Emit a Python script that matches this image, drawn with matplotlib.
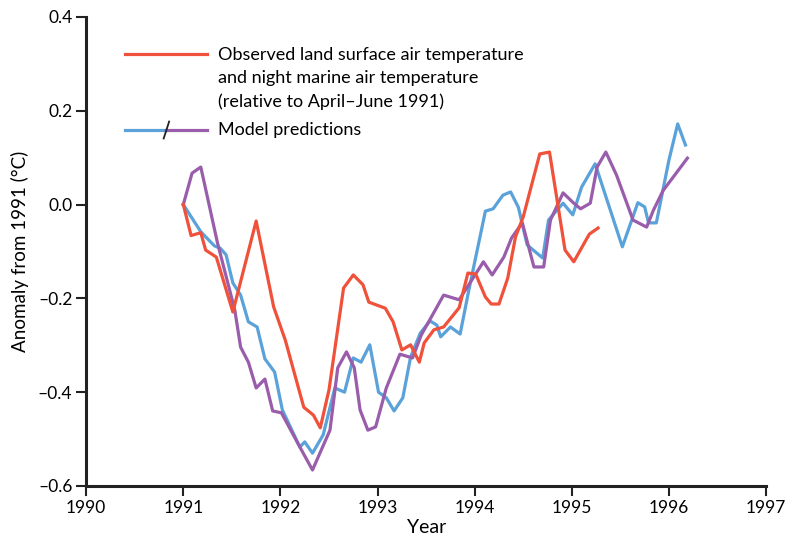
#!/usr/bin/env python

import matplotlib
matplotlib.use('Agg')
import matplotlib.pyplot as plt
from matplotlib.lines import Line2D

# observed land surface air temperature + night marine air temperature
obs_year = [1991.00, 1991.08, 1991.18, 1991.23, 1991.34, 1991.51, 1991.75, 1991.93,
            1992.05, 1992.24, 1992.34, 1992.41, 1992.50, 1992.65, 1992.75, 1992.85,
            1992.91, 1993.08, 1993.16, 1993.25, 1993.34, 1993.43, 1993.48, 1993.58,
            1993.68, 1993.84, 1993.93, 1994.01, 1994.11, 1994.17, 1994.25, 1994.34,
            1994.42, 1994.50, 1994.67, 1994.77, 1994.93, 1995.02, 1995.18, 1995.27]
obs_anom = [0.000, -0.066, -0.060, -0.097, -0.112, -0.229, -0.035, -0.218,
            -0.289, -0.432, -0.449, -0.476, -0.395, -0.178, -0.150, -0.171,
            -0.208, -0.221, -0.250, -0.310, -0.299, -0.336, -0.295, -0.267,
            -0.261, -0.220, -0.146, -0.148, -0.197, -0.212, -0.212, -0.157,
            -0.069, -0.026, 0.108, 0.112, -0.097, -0.122, -0.063, -0.050]

# model predictions, first run (blue)
blue_year = [1991.00, 1991.18, 1991.32, 1991.38, 1991.44, 1991.51, 1991.59, 1991.67,
             1991.76, 1991.84, 1991.94, 1992.02, 1992.20, 1992.25, 1992.33, 1992.44,
             1992.56, 1992.66, 1992.75, 1992.83, 1992.92, 1993.01, 1993.09, 1993.17,
             1993.26, 1993.34, 1993.44, 1993.54, 1993.61, 1993.65, 1993.75, 1993.85,
             1993.94, 1994.11, 1994.19, 1994.29, 1994.37, 1994.45, 1994.54, 1994.70,
             1994.76, 1994.83, 1994.91, 1995.01, 1995.10, 1995.24, 1995.52, 1995.68,
             1995.75, 1995.79, 1995.87, 1996.00, 1996.09, 1996.17]
blue_anom = [0.000, -0.058, -0.088, -0.093, -0.107, -0.167, -0.193, -0.250,
             -0.261, -0.329, -0.357, -0.438, -0.517, -0.506, -0.530, -0.491,
             -0.391, -0.400, -0.327, -0.336, -0.299, -0.400, -0.412, -0.440,
             -0.412, -0.325, -0.274, -0.248, -0.257, -0.282, -0.261, -0.276,
             -0.182, -0.014, -0.009, 0.020, 0.027, -0.006, -0.086, -0.114,
             -0.033, -0.016, 0.003, -0.022, 0.037, 0.087, -0.090, 0.004,
             -0.005, -0.039, -0.039, 0.095, 0.172, 0.127]

# model predictions, second run (purple)
purple_year = [1991.00, 1991.09, 1991.18, 1991.35, 1991.53, 1991.59, 1991.67, 1991.75,
               1991.84, 1991.92, 1992.01, 1992.20, 1992.33, 1992.51, 1992.59, 1992.68,
               1992.76, 1992.82, 1992.90, 1992.98, 1993.09, 1993.23, 1993.36, 1993.45,
               1993.68, 1993.84, 1994.09, 1994.18, 1994.30, 1994.38, 1994.49, 1994.61,
               1994.71, 1994.78, 1994.91, 1995.02, 1995.09, 1995.19, 1995.26, 1995.35,
               1995.46, 1995.63, 1995.77, 1995.84, 1995.94, 1996.19]
purple_anom = [0.000, 0.067, 0.080, -0.080, -0.225, -0.304, -0.336, -0.391,
               -0.372, -0.440, -0.444, -0.517, -0.566, -0.481, -0.348, -0.314,
               -0.348, -0.438, -0.481, -0.474, -0.391, -0.319, -0.327, -0.278,
               -0.193, -0.203, -0.122, -0.150, -0.112, -0.071, -0.039, -0.133,
               -0.133, -0.033, 0.025, 0.003, -0.009, 0.003, 0.080, 0.112,
               0.063, -0.033, -0.048, -0.012, 0.030, 0.099]

x_ticks = [1990, 1991, 1992, 1993, 1994, 1995, 1996, 1997]
y_ticks = [-0.6, -0.4, -0.2, 0.0, 0.2, 0.4]
y_labels = ['\u20130.6', '\u20130.4', '\u20130.2', '0.0', '0.2', '0.4']

RED = '#f0513a'
BLUE = '#5aa2d9'
PURPLE = '#9a5dab'

plt.rcParams['font.family'] = ['Lato', 'DejaVu Sans']

fig = plt.figure(figsize=(7.98, 5.41), dpi=100)
ax = fig.add_axes([0.108, 0.1017, 0.852, 0.8669])

ax.plot(obs_year, obs_anom, color=RED, linewidth=2.3, zorder=3)
ax.plot(blue_year, blue_anom, color=BLUE, linewidth=2.3, zorder=2)
ax.plot(purple_year, purple_anom, color=PURPLE, linewidth=2.3, zorder=2)

ax.set_xlim(1990, 1997)
ax.set_ylim(-0.6, 0.4)
ax.set_xticks(x_ticks)
ax.set_xticklabels([str(t) for t in x_ticks])
ax.set_yticks(y_ticks)
ax.set_yticklabels(y_labels)
ax.tick_params(direction='out', length=7, width=1.5, labelsize=12.5,
               color='#222222', pad=3)
for side in ('top', 'right'):
    ax.spines[side].set_visible(False)
for side in ('left', 'bottom'):
    ax.spines[side].set_linewidth(2.2)
    ax.spines[side].set_color('#222222')
ax.set_xlabel('Year', fontsize=14, labelpad=2)
ax.set_ylabel('Anomaly from 1991 (\u00b0C)', fontsize=13.5, labelpad=6)

# hand-made legend
tr = ax.transAxes
ax.add_line(Line2D([0.057, 0.178], [0.921, 0.921], transform=tr,
                   color=RED, linewidth=2.3))
ax.text(0.194, 0.935, 'Observed land surface air temperature\n'
        'and night marine air temperature\n(relative to April\u2013June 1991)',
        transform=tr, fontsize=13, va='top', ha='left', linespacing=1.52)
ax.add_line(Line2D([0.057, 0.118], [0.759, 0.759], transform=tr,
                   color=BLUE, linewidth=2.3))
ax.add_line(Line2D([0.118, 0.178], [0.759, 0.759], transform=tr,
                   color=PURPLE, linewidth=2.3))
ax.add_line(Line2D([0.114, 0.122], [0.741, 0.777], transform=tr,
                   color='#222222', linewidth=1.3))
ax.text(0.194, 0.759, 'Model predictions', transform=tr,
        fontsize=13, va='center', ha='left')

fig.savefig('out.png', dpi=100)
plt.close(fig)
